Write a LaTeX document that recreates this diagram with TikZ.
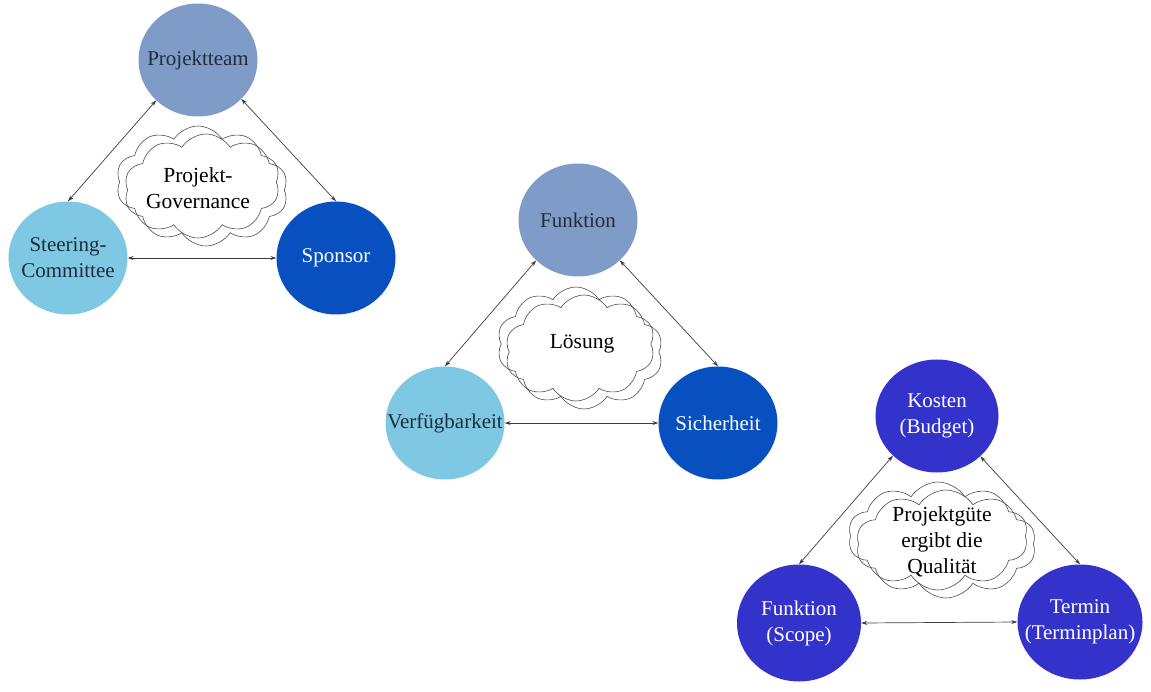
\documentclass[tikz,border=0pt]{standalone}
\usepackage{fontspec}
\setmainfont{Liberation Serif}
\usetikzlibrary{shapes.geometric,shapes.symbols,arrows.meta}
\definecolor{ctop}{RGB}{127,156,200}
\definecolor{cleft}{RGB}{126,200,227}
\definecolor{cright}{RGB}{8,80,192}
\definecolor{cthird}{RGB}{51,51,204}
\definecolor{darktxt}{RGB}{30,45,60}
\definecolor{arrowc}{RGB}{60,60,60}
\tikzset{
  ball/.style={ellipse, draw=none, inner xsep=-40pt, inner ysep=-30pt, minimum width=119pt, minimum height=113pt,
    align=center, font=\fontsize{21}{26}\selectfont},
  topball/.style={ball, fill=ctop, text=darktxt},
  leftball/.style={ball, fill=cleft, text=darktxt},
  rightball/.style={ball, fill=cright, text=white},
  thirdball/.style={ball, fill=cthird, text=white},
  cloudshape/.style={cloud, cloud puffs=10, cloud puff arc=115, aspect=1.5, draw=black!70,
    line width=0.6pt, inner sep=0pt},
  cloudtext/.style={align=center, font=\fontsize{21.5}{26}\selectfont, text=black},
  link/.style={draw=arrowc, line width=0.7pt, {Stealth[length=6pt,width=4pt]}-{Stealth[length=6pt,width=4pt]}}
}
\begin{document}
\begin{tikzpicture}[x=1pt,y=-1pt]
\useasboundingbox (0,0) rectangle (1151,692);
% ---- triangle 1
\node[cloudshape, minimum width=164pt, minimum height=112pt] (c1b) at (206,190) {};
\node[cloudshape, minimum width=164pt, minimum height=112pt] (c1a) at (198,182) {};
\node[cloudtext] (c1t) at (198,188) {Projekt-\\Governance};
\node[topball] (pt) at (198,60) {Projektteam};
\node[leftball] (sc) at (68,258) {Steering-\\Committee};
\node[rightball] (sp) at (336,258) {Sponsor};
\draw[link] (pt.224) -- (sc.north);
\draw[link] (pt.318) -- (sp.north);
\draw[link] (sc.east) -- (sp.west);
% ---- triangle 2
\node[cloudshape, minimum width=158pt, minimum height=114pt] (c2b) at (584,352) {};
\node[cloudshape, minimum width=158pt, minimum height=114pt] (c2a) at (576,344) {};
\node[cloudtext] (c2t) at (582,344) {Lösung};
\node[topball] (fu) at (578,220) {Funktion};
\node[leftball] (vf) at (445,423) {Verfügbarkeit};
\node[rightball] (si) at (718,423) {Sicherheit};
\draw[link] (fu.224) -- (vf.north);
\draw[link] (fu.316) -- (si.north);
\draw[link] (vf.east) -- (si.west);
% ---- triangle 3
\node[cloudshape, minimum width=180pt, minimum height=108pt] (c3b) at (946,544) {};
\node[cloudshape, minimum width=180pt, minimum height=108pt] (c3a) at (938,536) {};
\node[cloudtext] (c3t) at (942,542) {Projektgüte\\ergibt die\\Qualität};
\node[thirdball, minimum width=123pt, minimum height=113pt] (ko) at (937,416) {Kosten\\(Budget)};
\node[thirdball, minimum width=124pt, minimum height=117pt] (fs) at (799,623) {Funktion\\(Scope)};
\node[thirdball, minimum width=125pt, minimum height=115pt] (te) at (1080,622) {Termin\\(Terminplan)};
\draw[link] (ko.222) -- (fs.north);
\draw[link] (ko.317) -- (te.north);
\draw[link] (fs.east) -- (te.west);
\end{tikzpicture}
\end{document}
